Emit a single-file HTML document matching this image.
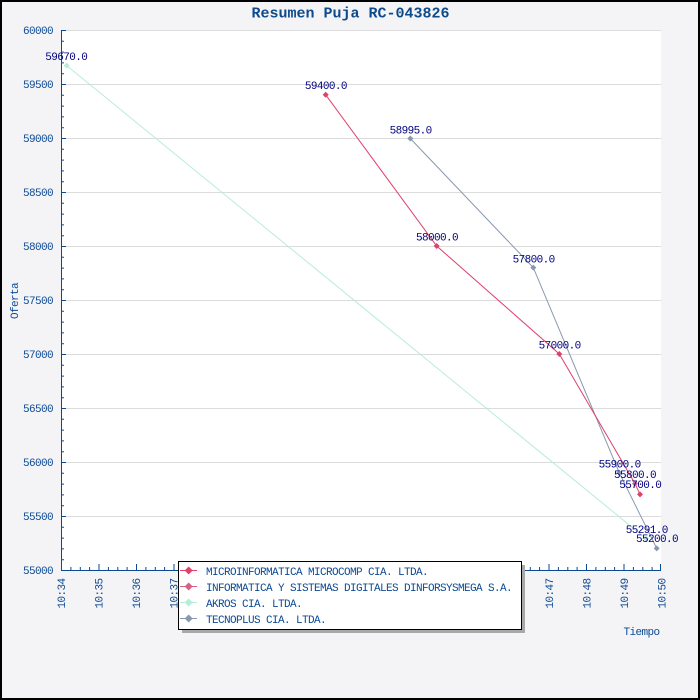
<!DOCTYPE html>
<html><head><meta charset="utf-8"><style>
html,body{margin:0;padding:0;background:#f4f4f6;}
svg{display:block;}
text{font-family:"Liberation Mono","DejaVu Sans Mono",monospace;}
</style></head><body>
<svg width="700" height="700" viewBox="0 0 700 700" xmlns="http://www.w3.org/2000/svg">
<rect x="0" y="0" width="700" height="700" fill="#f4f4f6"/>
<rect x="1" y="1" width="698" height="698" fill="none" stroke="#000" stroke-width="2"/>
<text x="350.5" y="17.5" text-anchor="middle" font-size="15" font-weight="bold" fill="#0d4a8c">Resumen Puja RC-043826</text>
<rect x="61" y="30" width="600" height="540" fill="#fff"/>
<g stroke="#dcdcdc" stroke-width="1">
<line x1="61" y1="30.5" x2="661" y2="30.5"/><line x1="61" y1="84.5" x2="661" y2="84.5"/><line x1="61" y1="138.5" x2="661" y2="138.5"/><line x1="61" y1="192.5" x2="661" y2="192.5"/><line x1="61" y1="246.5" x2="661" y2="246.5"/><line x1="61" y1="300.5" x2="661" y2="300.5"/><line x1="61" y1="354.5" x2="661" y2="354.5"/><line x1="61" y1="408.5" x2="661" y2="408.5"/><line x1="61" y1="462.5" x2="661" y2="462.5"/><line x1="61" y1="516.5" x2="661" y2="516.5"/>
</g>
<g stroke="#0d4a94" stroke-width="1">
<path d="M61 41.3h3M61 52.1h3M61 62.9h3M61 73.7h3M61 95.3h3M61 106.1h3M61 116.9h3M61 127.7h3M61 149.3h3M61 160.1h3M61 170.9h3M61 181.7h3M61 203.3h3M61 214.1h3M61 224.9h3M61 235.7h3M61 257.3h3M61 268.1h3M61 278.9h3M61 289.7h3M61 311.3h3M61 322.1h3M61 332.9h3M61 343.7h3M61 365.3h3M61 376.1h3M61 386.9h3M61 397.7h3M61 419.3h3M61 430.1h3M61 440.9h3M61 451.7h3M61 473.3h3M61 484.1h3M61 494.9h3M61 505.7h3M61 527.3h3M61 538.1h3M61 548.9h3M61 559.7h3"/>
<path d="M61 30.5h5M61 84.5h5M61 138.5h5M61 192.5h5M61 246.5h5M61 300.5h5M61 354.5h5M61 408.5h5M61 462.5h5M61 516.5h5"/>
<path d="M70.9 570v-3M80.3 570v-3M89.6 570v-3M108.4 570v-3M117.8 570v-3M127.1 570v-3M145.9 570v-3M155.3 570v-3M164.6 570v-3M183.4 570v-3M192.8 570v-3M202.1 570v-3M220.9 570v-3M230.3 570v-3M239.6 570v-3M258.4 570v-3M267.8 570v-3M277.1 570v-3M295.9 570v-3M305.3 570v-3M314.6 570v-3M333.4 570v-3M342.8 570v-3M352.1 570v-3M370.9 570v-3M380.3 570v-3M389.6 570v-3M408.4 570v-3M417.8 570v-3M427.1 570v-3M445.9 570v-3M455.3 570v-3M464.6 570v-3M483.4 570v-3M492.8 570v-3M502.1 570v-3M520.9 570v-3M530.3 570v-3M539.6 570v-3M558.4 570v-3M567.8 570v-3M577.1 570v-3M595.9 570v-3M605.3 570v-3M614.6 570v-3M633.4 570v-3M642.8 570v-3M652.1 570v-3"/>
<path d="M61.5 570v-6M99 570v-6M136.5 570v-6M174 570v-6M211.5 570v-6M249 570v-6M286.5 570v-6M324 570v-6M361.5 570v-6M399 570v-6M436.5 570v-6M474 570v-6M511.5 570v-6M549 570v-6M586.5 570v-6M624 570v-6M660.5 570v-6"/>
</g>
<line x1="61.5" y1="30" x2="61.5" y2="570.5" stroke="#0d4a94"/>
<line x1="61" y1="570.5" x2="661" y2="570.5" stroke="#0d4a94"/>
<g font-size="11" fill="#0d4a94" text-anchor="end" letter-spacing="-0.6">
<text x="53" y="34">60000</text><text x="53" y="88">59500</text><text x="53" y="142">59000</text><text x="53" y="196">58500</text><text x="53" y="250">58000</text><text x="53" y="304">57500</text><text x="53" y="358">57000</text><text x="53" y="412">56500</text><text x="53" y="466">56000</text><text x="53" y="520">55500</text><text x="53" y="574">55000</text>
</g>
<g font-size="11" fill="#0d4a94" text-anchor="end" letter-spacing="-0.6">
<text transform="translate(65,578.5) rotate(-90)">10:34</text>
<text transform="translate(102.5,578.5) rotate(-90)">10:35</text>
<text transform="translate(140,578.5) rotate(-90)">10:36</text>
<text transform="translate(177.5,578.5) rotate(-90)">10:37</text>
<text transform="translate(553,578.5) rotate(-90)">10:47</text>
<text transform="translate(590.5,578.5) rotate(-90)">10:48</text>
<text transform="translate(628,578.5) rotate(-90)">10:49</text>
<text transform="translate(665.5,578.5) rotate(-90)">10:50</text>
</g>
<text x="659.5" y="635" text-anchor="end" font-size="11" letter-spacing="-0.6" fill="#0d4a94">Tiempo</text>
<text transform="translate(18,301) rotate(-90)" text-anchor="middle" font-size="11" letter-spacing="-0.6" fill="#0d4a94">Oferta</text>
<!-- series -->
<polyline points="66.7,65.6 646,538.6" fill="none" stroke="#b8ecd8" stroke-width="1"/>
<polyline points="410.3,138.5 533.3,267.6 619.3,472.8 656.7,548.4" fill="none" stroke="#8898b0" stroke-width="1"/>
<polyline points="325.7,94.8 436.7,246 559.3,354 635,483.6 640,494.4" fill="none" stroke="#e0406c" stroke-width="1"/>
<g>
<path d="M66.7 62.6 L69.7 65.6 L66.7 68.6 L63.7 65.6Z" fill="#b8ecd8"/>
<path d="M646 535.6 L649 538.6 L646 541.6 L643 538.6Z" fill="#b8ecd8"/>
<path d="M410.3 135.5 L413.3 138.5 L410.3 141.5 L407.3 138.5Z" fill="#8898b0"/>
<path d="M533.3 264.6 L536.3 267.6 L533.3 270.6 L530.3 267.6Z" fill="#8898b0"/>
<path d="M619.3 469.8 L622.3 472.8 L619.3 475.8 L616.3 472.8Z" fill="#8898b0"/>
<path d="M656.7 545.4 L659.7 548.4 L656.7 551.4 L653.7 548.4Z" fill="#8898b0"/>
<path d="M325.7 91.8 L328.7 94.8 L325.7 97.8 L322.7 94.8Z" fill="#e0406c"/>
<path d="M436.7 243 L439.7 246 L436.7 249 L433.7 246Z" fill="#e0406c"/>
<path d="M559.3 351 L562.3 354 L559.3 357 L556.3 354Z" fill="#e0406c"/>
<path d="M635 480.6 L638 483.6 L635 486.6 L632 483.6Z" fill="#d86080"/>
<path d="M640 491.4 L643 494.4 L640 497.4 L637 494.4Z" fill="#e0406c"/>
</g>
<g font-size="11" fill="#000080" text-anchor="middle" letter-spacing="-0.6">
<text x="66.3" y="60">59670.0</text>
<text x="325.9" y="89">59400.0</text>
<text x="410.6" y="133.5">58995.0</text>
<text x="437" y="240.5">58000.0</text>
<text x="533.6" y="262.5">57800.0</text>
<text x="559.6" y="348.5">57000.0</text>
<text x="619.6" y="467.5">55900.0</text>
<text x="635" y="478">55800.0</text>
<text x="640.3" y="488">55700.0</text>
<text x="646.8" y="533">55291.0</text>
<text x="657" y="542">55200.0</text>
</g>
<!-- legend -->
<rect x="182" y="565" width="343" height="68" fill="#a8a8a8"/>
<rect x="178.5" y="561.5" width="343" height="68" fill="#fff" stroke="#000" stroke-width="1"/>
<g stroke-width="1">
<line x1="180" y1="570.5" x2="197" y2="570.5" stroke="#e0406c"/>
<path d="M188.7 566.5 L192.7 570.5 L188.7 574.5 L184.7 570.5Z" fill="#e0406c"/>
<line x1="180" y1="586.5" x2="197" y2="586.5" stroke="#d86080"/>
<path d="M188.7 582.5 L192.7 586.5 L188.7 590.5 L184.7 586.5Z" fill="#d86080"/>
<line x1="180" y1="602.5" x2="197" y2="602.5" stroke="#b8ecd8"/>
<path d="M188.7 598.5 L192.7 602.5 L188.7 606.5 L184.7 602.5Z" fill="#b8ecd8"/>
<line x1="180" y1="618.5" x2="197" y2="618.5" stroke="#8898b0"/>
<path d="M188.7 614.5 L192.7 618.5 L188.7 622.5 L184.7 618.5Z" fill="#8898b0"/>
</g>
<g font-size="11" fill="#0d4a94" letter-spacing="-0.6">
<text x="206" y="575">MICROINFORMATICA MICROCOMP CIA. LTDA.</text>
<text x="206" y="591">INFORMATICA Y SISTEMAS DIGITALES DINFORSYSMEGA S.A.</text>
<text x="206" y="607">AKROS CIA. LTDA.</text>
<text x="206" y="623">TECNOPLUS CIA. LTDA.</text>
</g>
</svg>
</body></html>
